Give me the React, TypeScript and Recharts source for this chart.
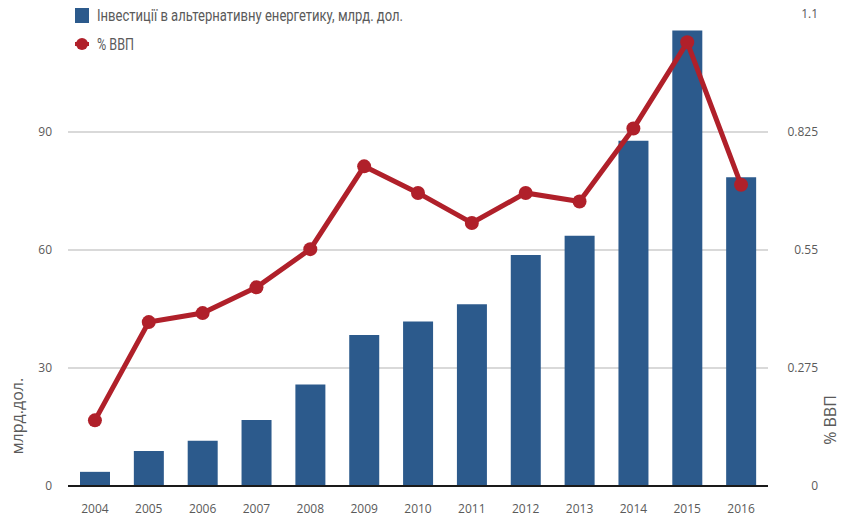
import { ComposedChart, Bar, Line, XAxis, YAxis, CartesianGrid } from "recharts"

const years = ["2004", "2005", "2006", "2007", "2008", "2009", "2010", "2011", "2012", "2013", "2014", "2015", "2016"]
const investment = [3.6, 8.9, 11.5, 16.8, 25.8, 38.4, 41.8, 46.2, 58.7, 63.6, 87.8, 115.8, 78.5]
const gdpShare = [0.153, 0.382, 0.403, 0.463, 0.552, 0.745, 0.683, 0.613, 0.683, 0.663, 0.833, 1.034, 0.702]
const leftTicks = [0, 30, 60, 90]
const rightTicks = [0, 0.275, 0.55, 0.825, 1.1]

const barName = "Інвестиції в альтернативну енергетику, млрд. дол."
const lineName = "% ВВП"

const data = years.map((year, i) => ({ year, investment: investment[i], gdp: gdpShare[i] }))

const BLUE = "#2c5a8c"
const RED = "#b0202a"
const TEXT = "#5a5a5a"
const FONT = "'Open Sans', 'Noto Sans', sans-serif"

// legend sits over the chart, top left, in a narrow face
function LegendBox() {
  return (
    <svg width={640} height={56} style={{ position: "absolute", left: 0, top: 0 }}>
      <rect x={75} y={8} width={14} height={15} fill={BLUE} />
      <text x={97} y={21} fontFamily="Roboto, sans-serif" fontSize={17} fill={TEXT} textLength={306} lengthAdjust="spacingAndGlyphs">
        {barName}
      </text>
      <line x1={75} y1={44} x2={89} y2={44} stroke={RED} strokeWidth={4} />
      <circle cx={82} cy={44} r={6} fill={RED} />
      <text x={97} y={50} fontFamily="Roboto, sans-serif" fontSize={17} fill={TEXT} textLength={37} lengthAdjust="spacingAndGlyphs">
        {lineName}
      </text>
    </svg>
  )
}

function RightTick(props: any) {
  const { x, y, payload } = props
  return (
    <text x={x + 42} y={y} dy={4} textAnchor="end" fill={TEXT} fontSize={12} fontFamily={FONT}>
      {payload.value}
    </text>
  )
}

export default function App() {
  return (
    <div style={{ position: "absolute", left: 0, top: 0, width: 850, height: 532, background: "#fff" }}>
      <ComposedChart width={850} height={532} data={data} margin={{ top: 14, right: 0, left: 0, bottom: 0 }}>
        <CartesianGrid yAxisId="left" vertical={false} stroke="#cccccc" strokeWidth={1.5} horizontalValues={leftTicks} />
        <XAxis
          dataKey="year"
          height={46}
          tickLine={false}
          axisLine={{ stroke: "#1a1a1a", strokeWidth: 2 }}
          tick={{ fill: TEXT, fontSize: 12, fontFamily: FONT }}
          tickMargin={12}
        />
        <YAxis
          yAxisId="left"
          width={68}
          domain={[0, 120]}
          ticks={leftTicks}
          axisLine={false}
          tickLine={false}
          tickMargin={10}
          tick={{ fill: TEXT, fontSize: 12, fontFamily: FONT }}
          label={{
            content: (p: any) => (
              <text
                x={0}
                y={0}
                transform={`translate(${p.viewBox.x + 23}, ${p.viewBox.y + p.viewBox.height - 70}) rotate(-90)`}
                textAnchor="middle"
                fill={TEXT}
                fontSize={16}
                fontFamily={FONT}
              >
                млрд.дол.
              </text>
            ),
          }}
        />
        <YAxis
          yAxisId="right"
          orientation="right"
          width={82}
          domain={[0, 1.1]}
          ticks={rightTicks}
          axisLine={false}
          tickLine={false}
          tick={<RightTick />}
          label={{
            content: (p: any) => (
              <text
                x={0}
                y={0}
                transform={`translate(${p.viewBox.x + 68}, ${p.viewBox.y + p.viewBox.height - 66}) rotate(-90)`}
                textAnchor="middle"
                fill={TEXT}
                fontSize={16}
                fontFamily={FONT}
              >
                % ВВП
              </text>
            ),
          }}
        />
        <Bar yAxisId="left" dataKey="investment" name={barName} fill={BLUE} barSize={30} isAnimationActive={false} />
        <Line
          yAxisId="right"
          dataKey="gdp"
          name={lineName}
          stroke={RED}
          strokeWidth={5}
          dot={{ r: 7, fill: RED, stroke: RED, strokeWidth: 0 }}
          activeDot={false}
          isAnimationActive={false}
        />
      </ComposedChart>
      <LegendBox />
    </div>
  )
}
